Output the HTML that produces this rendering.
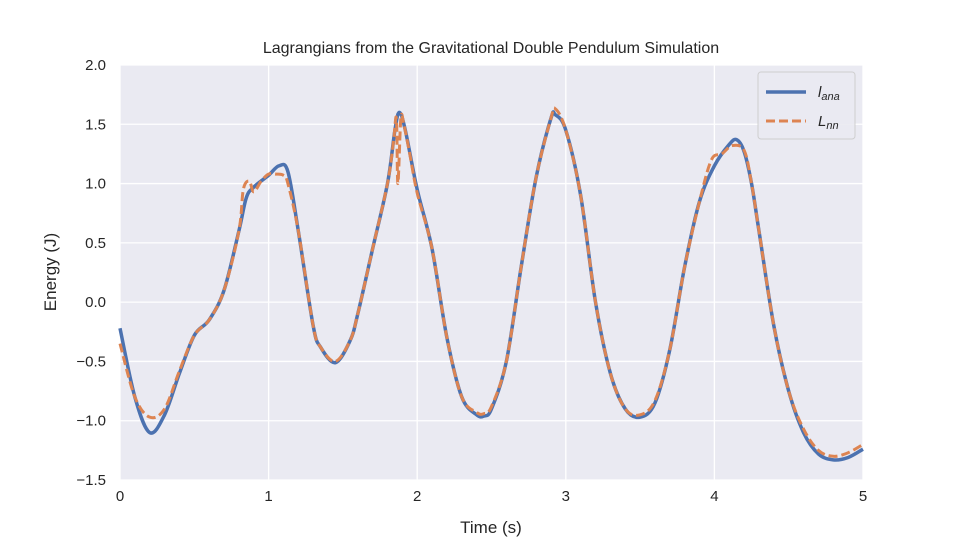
<!DOCTYPE html>
<html><head><meta charset="utf-8"><style>
body{margin:0;background:#fff;}
svg text{font-family:"Liberation Sans","DejaVu Sans",sans-serif;fill:#262626;}
</style></head><body>
<svg id="chart" width="960" height="540" viewBox="0 0 960 540">
<rect x="120" y="65" width="743" height="415" fill="#eaeaf2"/>
<g id="grid"></g>
<g id="series"></g>
<g id="ticks"></g>
<text x="491" y="53" font-size="16" text-anchor="middle">Lagrangians from the Gravitational Double Pendulum Simulation</text>
<text x="491" y="533" font-size="17" text-anchor="middle">Time (s)</text>
<text x="56" y="272" font-size="17" text-anchor="middle" transform="rotate(-90 56 272)">Energy (J)</text>
<g>
<rect x="758" y="72" width="97" height="67" rx="3" fill="#eaeaf2" stroke="#cccccc" stroke-width="1" opacity="0.9"/>
<line x1="766" y1="92" x2="806" y2="92" stroke="#4c72b0" stroke-width="3.5"/>
<text x="818" y="97" font-size="15" font-style="italic">l<tspan font-size="11" dy="3">ana</tspan></text>
<line x1="766" y1="121" x2="806" y2="121" stroke="#dd8452" stroke-width="3" stroke-dasharray="9,4"/>
<text x="818" y="126" font-size="15" font-style="italic">L<tspan font-size="11" dy="3">nn</tspan></text>
</g>
</svg>
<script>
const xTicks=[0,1,2,3,4,5];
const yTicks=[-1.5,-1.0,-0.5,0.0,0.5,1.0,1.5,2.0];
const yTickLabels=["−1.5","−1.0","−0.5","0.0","0.5","1.0","1.5","2.0"];
const tAna=[0,0.1,0.2,0.3,0.4,0.5,0.6,0.7,0.8,0.85,0.9,1.0,1.07,1.13,1.2,1.3,1.35,1.45,1.55,1.6,1.7,1.8,1.85,1.88,1.92,2.0,2.1,2.2,2.3,2.4,2.45,2.5,2.6,2.7,2.8,2.9,2.93,3.0,3.1,3.2,3.3,3.4,3.5,3.6,3.7,3.8,3.9,4.0,4.1,4.15,4.2,4.25,4.3,4.4,4.5,4.6,4.7,4.8,4.9,5.0];
const vAna=[-0.22,-0.8,-1.1,-0.95,-0.6,-0.28,-0.15,0.1,0.6,0.88,0.97,1.07,1.15,1.1,0.6,-0.2,-0.38,-0.51,-0.32,-0.1,0.45,1.0,1.45,1.6,1.45,0.95,0.45,-0.3,-0.8,-0.95,-0.96,-0.9,-0.5,0.3,1.05,1.55,1.58,1.45,0.9,0.0,-0.6,-0.9,-0.97,-0.85,-0.4,0.3,0.85,1.15,1.33,1.37,1.27,1.0,0.6,-0.2,-0.75,-1.1,-1.28,-1.33,-1.31,-1.24];
const tNn=[0,0.1,0.2,0.3,0.4,0.5,0.6,0.7,0.8,0.83,0.87,0.9,0.95,1.0,1.05,1.1,1.13,1.2,1.3,1.35,1.45,1.55,1.6,1.7,1.8,1.84,1.86,1.87,1.89,1.91,1.95,2.0,2.1,2.2,2.3,2.4,2.45,2.5,2.6,2.7,2.8,2.9,2.93,3.0,3.1,3.2,3.3,3.4,3.5,3.6,3.7,3.8,3.9,3.98,4.05,4.12,4.2,4.25,4.3,4.4,4.5,4.6,4.7,4.8,4.9,5.0];
const vNn=[-0.35,-0.8,-0.97,-0.9,-0.58,-0.28,-0.15,0.1,0.6,0.95,1.02,0.93,1.02,1.08,1.08,1.07,1.0,0.6,-0.2,-0.38,-0.5,-0.32,-0.1,0.45,1.0,1.35,1.55,1.0,1.55,1.5,1.25,0.92,0.45,-0.3,-0.8,-0.93,-0.94,-0.88,-0.5,0.3,1.05,1.55,1.63,1.45,0.9,0.0,-0.6,-0.9,-0.95,-0.83,-0.4,0.3,0.85,1.2,1.25,1.32,1.28,1.0,0.6,-0.2,-0.75,-1.07,-1.25,-1.3,-1.27,-1.2];
const X=t=>120+t*(743/5);
const Y=v=>480-(v+1.5)*(415/3.5);
const NS="http://www.w3.org/2000/svg";
function mk(tag,attrs,parent){const e=document.createElementNS(NS,tag);for(const k in attrs)e.setAttribute(k,attrs[k]);parent.appendChild(e);return e;}
const grid=document.getElementById('grid'),ticks=document.getElementById('ticks'),series=document.getElementById('series');
xTicks.forEach(t=>{
 const l=mk('line',{x1:X(t),x2:X(t),y1:65,y2:480,stroke:'#fff','stroke-width':1.3},grid);
 
 
 const tx=mk('text',{x:X(t),y:501,'font-size':15,'text-anchor':'middle'},ticks);tx.textContent=t;
 
 
});
yTicks.forEach((v,i)=>{
 const l=mk('line',{x1:120,x2:863,y1:Y(v),y2:Y(v),stroke:'#fff','stroke-width':1.3},grid);
 
 
 const tx=mk('text',{x:106,y:Y(v)+5,'font-size':15,'text-anchor':'end'},ticks);tx.textContent=yTickLabels[i];
 
 
});
function path(ts,vs){
 const p=ts.map((t,i)=>[X(t),Y(vs[i])]);
 let d='M'+p[0][0]+','+p[0][1];
 for(let i=0;i<p.length-1;i++){
  const p0=p[Math.max(0,i-1)],p1=p[i],p2=p[i+1],p3=p[Math.min(p.length-1,i+2)];
  const c1=[p1[0]+(p2[0]-p0[0])/6,p1[1]+(p2[1]-p0[1])/6];
  const c2=[p2[0]-(p3[0]-p1[0])/6,p2[1]-(p3[1]-p1[1])/6];
  d+=` C${c1[0]},${c1[1]} ${c2[0]},${c2[1]} ${p2[0]},${p2[1]}`;
 }
 return d;
}
const a=mk('path',{d:path(tAna,vAna),fill:'none',stroke:'#4c72b0','stroke-width':3.5,'stroke-linejoin':'round'},series);


const n=mk('path',{d:path(tNn,vNn),fill:'none',stroke:'#dd8452','stroke-width':3,'stroke-dasharray':'9,4'},series);


</script>
</body></html>
